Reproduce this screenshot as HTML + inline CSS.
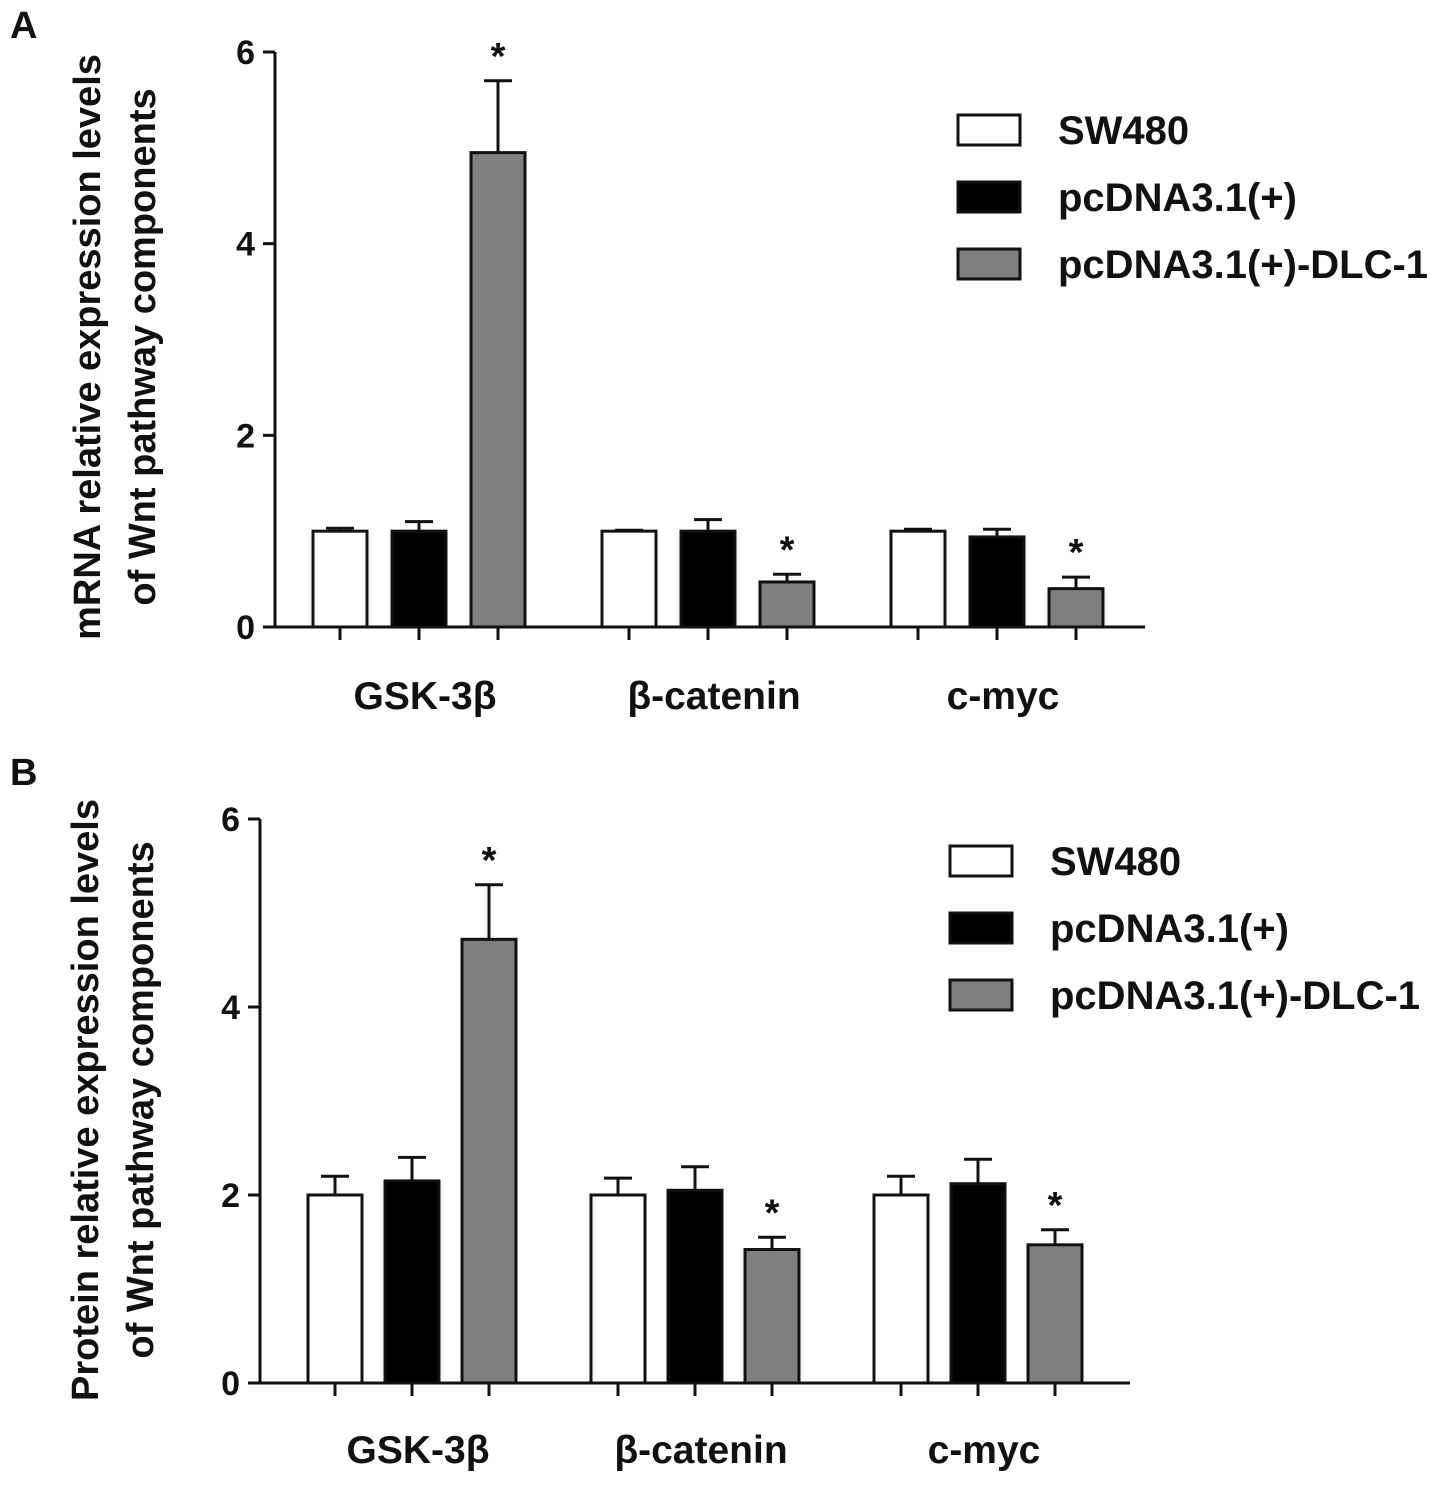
<!DOCTYPE html>
<html><head><meta charset="utf-8"><style>
body{margin:0;background:#fff;}
svg text{font-family:"Liberation Sans",Arial,sans-serif;font-weight:bold;fill:#111;}
</style></head><body>
<svg id="chart" width="1441" height="1485" viewBox="0 0 1441 1485" xmlns="http://www.w3.org/2000/svg"></svg>
<script>
const categories = ["GSK-3β","β-catenin","c-myc"];
const seriesNames = ["SW480","pcDNA3.1(+)","pcDNA3.1(+)-DLC-1"];
const yTicks = [0,2,4,6];
const mrnaSW480 = [1.0,1.0,1.0];
const mrnaPc = [1.0,1.0,0.94];
const mrnaDlc = [4.95,0.47,0.4];
const mrnaErrSW480 = [0.03,0.01,0.02];
const mrnaErrPc = [0.1,0.12,0.08];
const mrnaErrDlc = [0.75,0.08,0.12];
const protSW480 = [2.0,2.0,2.0];
const protPc = [2.15,2.05,2.12];
const protDlc = [4.72,1.42,1.47];
const protErrSW480 = [0.2,0.18,0.2];
const protErrPc = [0.25,0.25,0.26];
const protErrDlc = [0.58,0.13,0.16];
const sigMarks = [[false,false,true],[false,false,true],[false,false,true]];

const svg=document.getElementById('chart');
const NS='http://www.w3.org/2000/svg';
function mk(tag,attrs,parent){const e=document.createElementNS(NS,tag);for(const k in attrs)e.setAttribute(k,attrs[k]);(parent||svg).appendChild(e);return e;}
const fills=['#ffffff','#000000','#808080'];

function panel(cfg){
  const g=mk('g',{});
  
  
  const y=v=>cfg.y0-(v/6)*(cfg.y0-cfg.y6);
  const catX=(ci,si)=>cfg.cat0+ci*cfg.catGap+si*cfg.barGap;
  const lbl=mk('text',{x:cfg.labX,y:cfg.labY,'font-size':38},g);lbl.textContent=cfg.letter;
  
  const ya=mk('line',{x1:cfg.ax,y1:y(0),x2:cfg.ax,y2:y(6),stroke:'#111','stroke-width':3},g);
  
  const xa=mk('line',{x1:cfg.ax,y1:y(0),x2:cfg.axEnd,y2:y(0),stroke:'#111','stroke-width':3},g);
  
  yTicks.forEach(t=>{
    mk('line',{x1:cfg.ax-12,y1:y(t),x2:cfg.ax,y2:y(t),stroke:'#111','stroke-width':3},g);
    const tl=mk('text',{x:cfg.ax-20,y:y(t)+12,'font-size':34,'text-anchor':'end'},g);tl.textContent=t;
    
  });
  const yt=mk('text',{transform:`translate(${cfg.titleX},${cfg.titleY}) rotate(-90)`,'font-size':38,'text-anchor':'middle'},g);
  
  const t1=mk('tspan',{x:0,dy:0},yt);t1.textContent=cfg.title;
  const t2=mk('tspan',{x:0,dy:55},yt);t2.textContent='of Wnt pathway components';
  categories.forEach((c,ci)=>{
    cfg.series.forEach((vals,si)=>{
      const cx=catX(ci,si),v=vals[ci],e=cfg.errs[si][ci];
      mk('line',{x1:cx,y1:y(v+e),x2:cx,y2:y(v),stroke:'#111','stroke-width':3},g);
      mk('line',{x1:cx-14,y1:y(v+e),x2:cx+14,y2:y(v+e),stroke:'#111','stroke-width':3},g);
      const b=mk('rect',{x:cx-27,y:y(v),width:54,height:y(0)-y(v),fill:fills[si],stroke:'#111','stroke-width':3},g);
      
      mk('line',{x1:cx,y1:y(0),x2:cx,y2:y(0)+13,stroke:'#111','stroke-width':3},g);
      if(sigMarks[ci][si]){const s=mk('text',{x:cx,y:y(v+e)-12,'font-size':38,'font-weight':'normal','text-anchor':'middle'},g);s.textContent='*';
        }
    });
    const cl=mk('text',{x:catX(ci,1)+6,y:cfg.catLabY,'font-size':39,'text-anchor':'middle'},g);cl.textContent=c;
    
  });
  seriesNames.forEach((n,si)=>{
    const ly=cfg.legY+si*cfg.legGap;
    const r=mk('rect',{x:cfg.legX,y:ly,width:62,height:30,fill:fills[si],stroke:'#111','stroke-width':3},g);
    
    const t=mk('text',{x:cfg.legX+100,y:ly+29,'font-size':40},g);t.textContent=n;
    
  });
}
panel({name:'panel-a-mrna',letter:'A',labX:10,labY:38,ax:275,axEnd:1145,y0:627,y6:52,cat0:340,catGap:289,barGap:79,
  series:[mrnaSW480,mrnaPc,mrnaDlc],errs:[mrnaErrSW480,mrnaErrPc,mrnaErrDlc],
  title:'mRNA relative expression levels',titleX:100,titleY:347,catLabY:709,legX:958,legY:115,legGap:67});
panel({name:'panel-b-protein',letter:'B',labX:10,labY:785,ax:260,axEnd:1130,y0:1383,y6:819,cat0:335,catGap:283,barGap:77,
  series:[protSW480,protPc,protDlc],errs:[protErrSW480,protErrPc,protErrDlc],
  title:'Protein relative expression levels',titleX:98,titleY:1100,catLabY:1463,legX:950,legY:846,legGap:67});
</script>
</body></html>
